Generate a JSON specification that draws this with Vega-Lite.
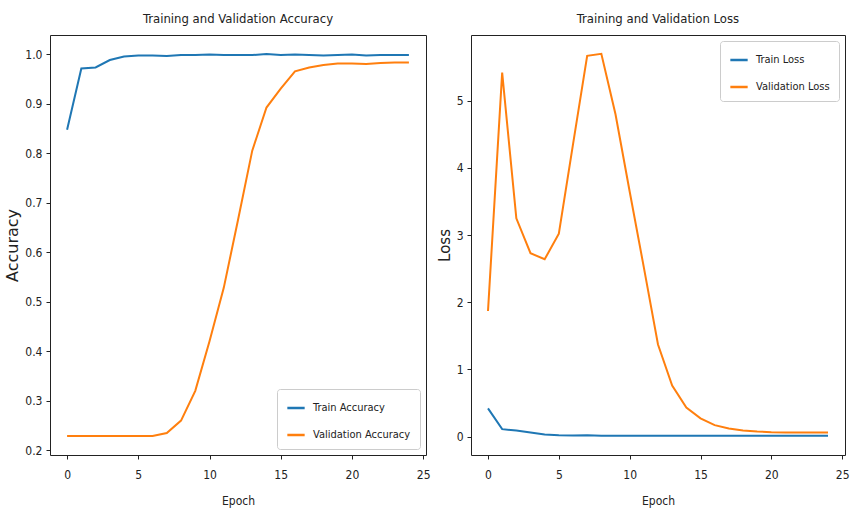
{
  "$schema": "https://vega.github.io/schema/vega-lite/v6.json",
  "padding": {"left": 4, "top": 12, "right": 2, "bottom": 2},
  "spacing": 5,
  "config": {
    "font": "DejaVu Sans Condensed, Liberation Sans Narrow, DejaVu Sans",
    "view": {"stroke": "#222222", "strokeWidth": 1},
    "axis": {
      "grid": false,
      "domain": false,
      "ticks": true,
      "tickSize": 4,
      "tickColor": "#222222",
      "tickWidth": 1,
      "labelColor": "#222222",
      "labelFont": "DejaVu Sans Condensed, Liberation Sans Narrow, DejaVu Sans",
      "labelFontSize": 12,
      "titleColor": "#222222",
      "titleFontWeight": "normal"
    },
    "axisX": {"labelPadding": 10, "titleFontSize": 12, "titlePadding": 15, "titleFont": "DejaVu Sans Condensed, Liberation Sans Narrow, DejaVu Sans"},
    "axisY": {"labelPadding": 4, "titleFontSize": 15, "titlePadding": 4, "titleFont": "DejaVu Sans"},
    "title": {"fontSize": 13, "fontWeight": "normal", "color": "#222222", "offset": 9, "font": "DejaVu Sans Condensed, Liberation Sans Narrow, DejaVu Sans"},
    "legend": {
      "fillColor": "white",
      "strokeColor": "#cccccc",
      "cornerRadius": 3,
      "padding": 9,
      "rowPadding": 12,
      "labelFontSize": 11,
      "labelColor": "#222222",
      "labelFont": "DejaVu Sans Condensed, Liberation Sans Narrow, DejaVu Sans",
      "symbolType": "stroke",
      "symbolSize": 300,
      "symbolStrokeWidth": 2.5,
      "labelOffset": 7
    }
  },
  "datasets": {
    "acc": [
      {"epoch": 0, "metric": "Train Accuracy", "value": 0.847},
      {"epoch": 1, "metric": "Train Accuracy", "value": 0.971},
      {"epoch": 2, "metric": "Train Accuracy", "value": 0.973},
      {"epoch": 3, "metric": "Train Accuracy", "value": 0.988},
      {"epoch": 4, "metric": "Train Accuracy", "value": 0.995},
      {"epoch": 5, "metric": "Train Accuracy", "value": 0.997},
      {"epoch": 6, "metric": "Train Accuracy", "value": 0.997},
      {"epoch": 7, "metric": "Train Accuracy", "value": 0.996},
      {"epoch": 8, "metric": "Train Accuracy", "value": 0.998},
      {"epoch": 9, "metric": "Train Accuracy", "value": 0.998},
      {"epoch": 10, "metric": "Train Accuracy", "value": 0.999},
      {"epoch": 11, "metric": "Train Accuracy", "value": 0.998},
      {"epoch": 12, "metric": "Train Accuracy", "value": 0.998},
      {"epoch": 13, "metric": "Train Accuracy", "value": 0.998},
      {"epoch": 14, "metric": "Train Accuracy", "value": 1.0},
      {"epoch": 15, "metric": "Train Accuracy", "value": 0.998},
      {"epoch": 16, "metric": "Train Accuracy", "value": 0.999},
      {"epoch": 17, "metric": "Train Accuracy", "value": 0.998},
      {"epoch": 18, "metric": "Train Accuracy", "value": 0.997},
      {"epoch": 19, "metric": "Train Accuracy", "value": 0.998},
      {"epoch": 20, "metric": "Train Accuracy", "value": 0.999},
      {"epoch": 21, "metric": "Train Accuracy", "value": 0.997},
      {"epoch": 22, "metric": "Train Accuracy", "value": 0.998},
      {"epoch": 23, "metric": "Train Accuracy", "value": 0.998},
      {"epoch": 24, "metric": "Train Accuracy", "value": 0.998},
      {"epoch": 0, "metric": "Validation Accuracy", "value": 0.229},
      {"epoch": 1, "metric": "Validation Accuracy", "value": 0.229},
      {"epoch": 2, "metric": "Validation Accuracy", "value": 0.229},
      {"epoch": 3, "metric": "Validation Accuracy", "value": 0.229},
      {"epoch": 4, "metric": "Validation Accuracy", "value": 0.229},
      {"epoch": 5, "metric": "Validation Accuracy", "value": 0.229},
      {"epoch": 6, "metric": "Validation Accuracy", "value": 0.229},
      {"epoch": 7, "metric": "Validation Accuracy", "value": 0.235},
      {"epoch": 8, "metric": "Validation Accuracy", "value": 0.26},
      {"epoch": 9, "metric": "Validation Accuracy", "value": 0.32},
      {"epoch": 10, "metric": "Validation Accuracy", "value": 0.42},
      {"epoch": 11, "metric": "Validation Accuracy", "value": 0.528},
      {"epoch": 12, "metric": "Validation Accuracy", "value": 0.665},
      {"epoch": 13, "metric": "Validation Accuracy", "value": 0.805},
      {"epoch": 14, "metric": "Validation Accuracy", "value": 0.892},
      {"epoch": 15, "metric": "Validation Accuracy", "value": 0.93},
      {"epoch": 16, "metric": "Validation Accuracy", "value": 0.965},
      {"epoch": 17, "metric": "Validation Accuracy", "value": 0.973},
      {"epoch": 18, "metric": "Validation Accuracy", "value": 0.978},
      {"epoch": 19, "metric": "Validation Accuracy", "value": 0.981},
      {"epoch": 20, "metric": "Validation Accuracy", "value": 0.981},
      {"epoch": 21, "metric": "Validation Accuracy", "value": 0.98},
      {"epoch": 22, "metric": "Validation Accuracy", "value": 0.982},
      {"epoch": 23, "metric": "Validation Accuracy", "value": 0.983},
      {"epoch": 24, "metric": "Validation Accuracy", "value": 0.983}
    ],
    "loss": [
      {"epoch": 0, "metric": "Train Loss", "value": 0.42},
      {"epoch": 1, "metric": "Train Loss", "value": 0.11},
      {"epoch": 2, "metric": "Train Loss", "value": 0.09},
      {"epoch": 3, "metric": "Train Loss", "value": 0.06},
      {"epoch": 4, "metric": "Train Loss", "value": 0.03},
      {"epoch": 5, "metric": "Train Loss", "value": 0.02},
      {"epoch": 6, "metric": "Train Loss", "value": 0.015},
      {"epoch": 7, "metric": "Train Loss", "value": 0.02},
      {"epoch": 8, "metric": "Train Loss", "value": 0.01},
      {"epoch": 9, "metric": "Train Loss", "value": 0.01},
      {"epoch": 10, "metric": "Train Loss", "value": 0.01},
      {"epoch": 11, "metric": "Train Loss", "value": 0.01},
      {"epoch": 12, "metric": "Train Loss", "value": 0.01},
      {"epoch": 13, "metric": "Train Loss", "value": 0.012},
      {"epoch": 14, "metric": "Train Loss", "value": 0.01},
      {"epoch": 15, "metric": "Train Loss", "value": 0.01},
      {"epoch": 16, "metric": "Train Loss", "value": 0.01},
      {"epoch": 17, "metric": "Train Loss", "value": 0.012},
      {"epoch": 18, "metric": "Train Loss", "value": 0.012},
      {"epoch": 19, "metric": "Train Loss", "value": 0.012},
      {"epoch": 20, "metric": "Train Loss", "value": 0.01},
      {"epoch": 21, "metric": "Train Loss", "value": 0.012},
      {"epoch": 22, "metric": "Train Loss", "value": 0.012},
      {"epoch": 23, "metric": "Train Loss", "value": 0.012},
      {"epoch": 24, "metric": "Train Loss", "value": 0.012},
      {"epoch": 0, "metric": "Validation Loss", "value": 1.87},
      {"epoch": 1, "metric": "Validation Loss", "value": 5.42},
      {"epoch": 2, "metric": "Validation Loss", "value": 3.25},
      {"epoch": 3, "metric": "Validation Loss", "value": 2.73},
      {"epoch": 4, "metric": "Validation Loss", "value": 2.64},
      {"epoch": 5, "metric": "Validation Loss", "value": 3.02},
      {"epoch": 6, "metric": "Validation Loss", "value": 4.35},
      {"epoch": 7, "metric": "Validation Loss", "value": 5.67},
      {"epoch": 8, "metric": "Validation Loss", "value": 5.7},
      {"epoch": 9, "metric": "Validation Loss", "value": 4.8},
      {"epoch": 10, "metric": "Validation Loss", "value": 3.65},
      {"epoch": 11, "metric": "Validation Loss", "value": 2.52},
      {"epoch": 12, "metric": "Validation Loss", "value": 1.37},
      {"epoch": 13, "metric": "Validation Loss", "value": 0.76},
      {"epoch": 14, "metric": "Validation Loss", "value": 0.43},
      {"epoch": 15, "metric": "Validation Loss", "value": 0.27},
      {"epoch": 16, "metric": "Validation Loss", "value": 0.17},
      {"epoch": 17, "metric": "Validation Loss", "value": 0.12},
      {"epoch": 18, "metric": "Validation Loss", "value": 0.09},
      {"epoch": 19, "metric": "Validation Loss", "value": 0.075},
      {"epoch": 20, "metric": "Validation Loss", "value": 0.065},
      {"epoch": 21, "metric": "Validation Loss", "value": 0.06},
      {"epoch": 22, "metric": "Validation Loss", "value": 0.06},
      {"epoch": 23, "metric": "Validation Loss", "value": 0.06},
      {"epoch": 24, "metric": "Validation Loss", "value": 0.06}
    ]
  },
  "hconcat": [
    {
      "width": 376,
      "height": 420,
      "title": "Training and Validation Accuracy",
      "data": {"name": "acc"},
      "mark": {"type": "line", "strokeWidth": 2},
      "encoding": {
        "x": {"field": "epoch", "type": "quantitative", "title": "Epoch",
              "scale": {"domain": [-1.2, 25.2], "nice": false, "zero": false},
              "axis": {"values": [0, 5, 10, 15, 20, 25]}},
        "y": {"field": "value", "type": "quantitative", "title": "Accuracy",
              "scale": {"domain": [0.1905, 1.0385], "nice": false, "zero": false},
              "axis": {"values": [0.2, 0.3, 0.4, 0.5, 0.6, 0.7, 0.8, 0.9, 1.0], "format": ".1f", "titleFontSize": 16}},
        "color": {"field": "metric", "type": "nominal",
                  "scale": {"domain": ["Train Accuracy", "Validation Accuracy"], "range": ["#1f77b4", "#ff7f0e"]},
                  "legend": {"title": null, "orient": "bottom-right", "offset": 6}}
      }
    },
    {
      "width": 374,
      "height": 420,
      "title": "Training and Validation Loss",
      "data": {"name": "loss"},
      "mark": {"type": "line", "strokeWidth": 2},
      "encoding": {
        "x": {"field": "epoch", "type": "quantitative", "title": "Epoch",
              "scale": {"domain": [-1.2, 25.2], "nice": false, "zero": false},
              "axis": {"values": [0, 5, 10, 15, 20, 25]}},
        "y": {"field": "value", "type": "quantitative", "title": "Loss",
              "scale": {"domain": [-0.275, 5.98], "nice": false, "zero": false},
              "axis": {"values": [0, 1, 2, 3, 4, 5]}},
        "color": {"field": "metric", "type": "nominal",
                  "scale": {"domain": ["Train Loss", "Validation Loss"], "range": ["#1f77b4", "#ff7f0e"]},
                  "legend": {"title": null, "orient": "top-right", "offset": 6}}
      }
    }
  ],
  "resolve": {"scale": {"color": "independent"}, "legend": {"color": "independent"}}
}
